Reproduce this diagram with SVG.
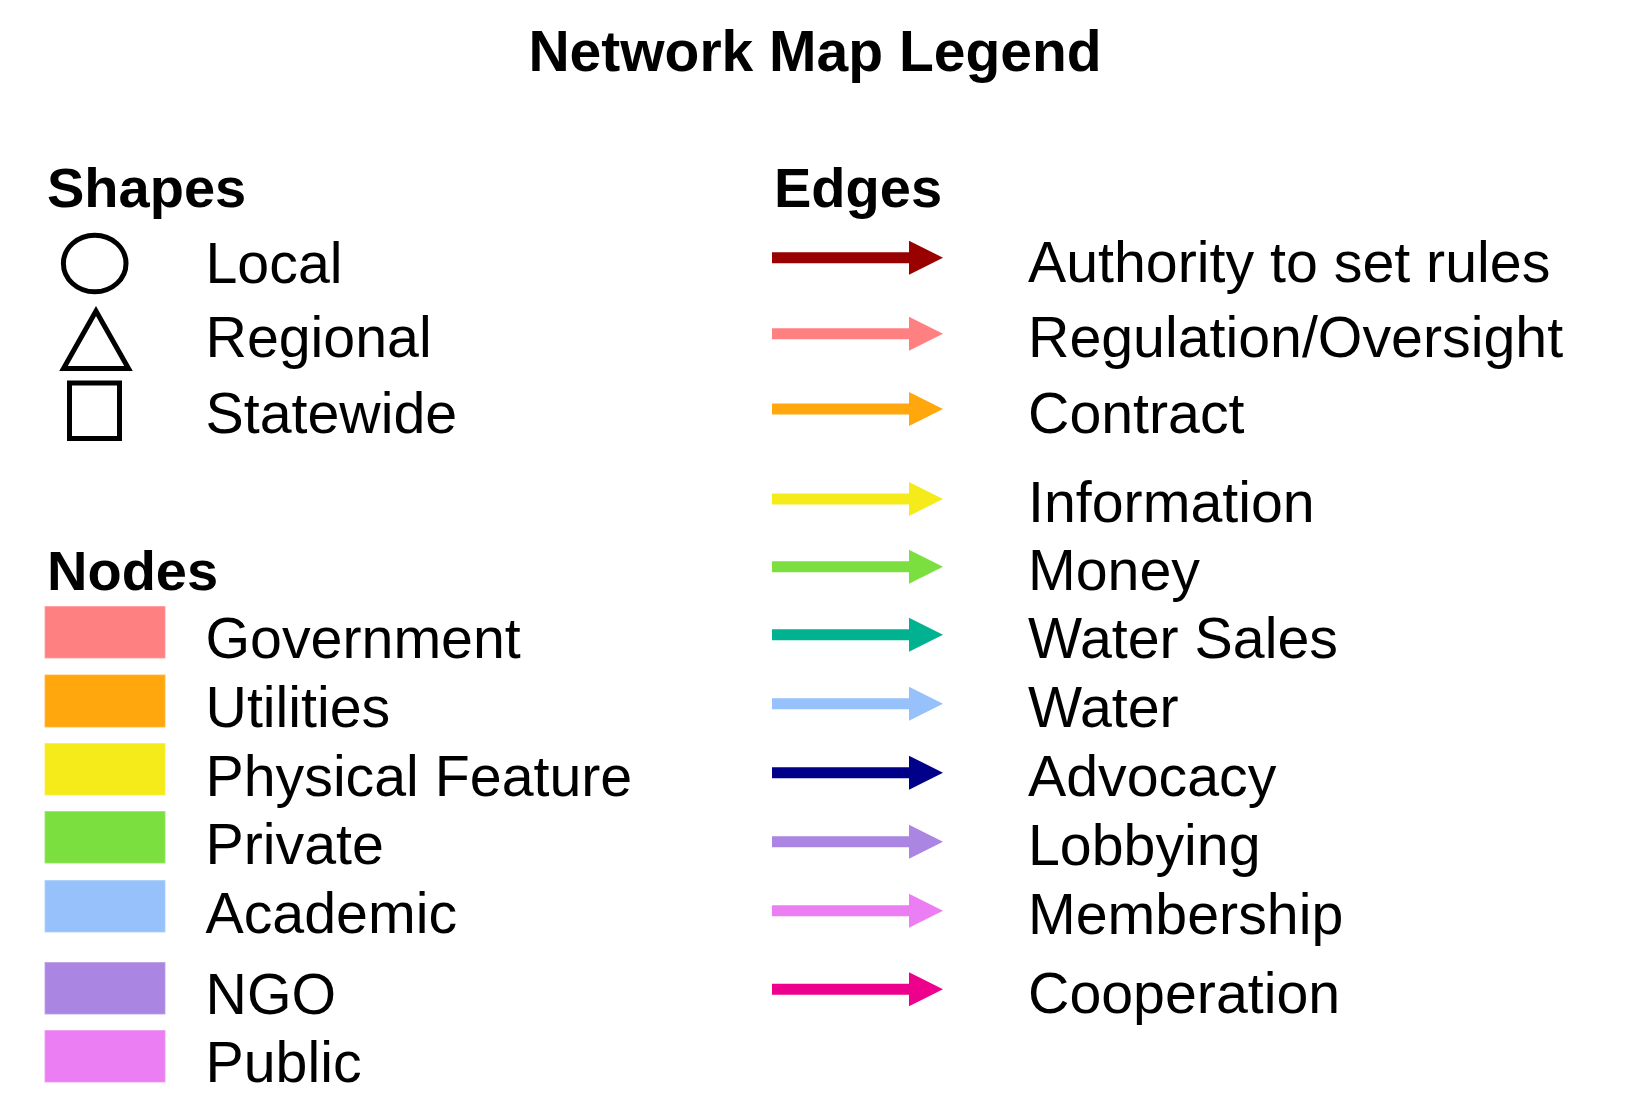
<svg xmlns="http://www.w3.org/2000/svg" width="1629" height="1119" viewBox="0 0 1629 1119">
<defs>
<style>
text{font-family:"Liberation Sans",Arial,sans-serif;fill:#000}
.h{font-weight:bold;font-size:56px}
.t{font-size:57.3px}
.sh{fill:none;stroke:#000;stroke-width:5}
.sw{stroke-width:1.5;stroke-opacity:0.35;stroke:#fff}
</style>
<path id="arr" d="M772,-5.5 H909 V-17 L943,0 L909,17 V5.5 H772 Z"/>
</defs>
<rect width="1629" height="1119" fill="#fff"/>
<text class="h" x="815" y="71" text-anchor="middle" style="font-size:57px">Network Map Legend</text>

<g id="shapes">
<text class="h" x="47" y="207">Shapes</text>
<g id="shape-local"><ellipse class="sh" cx="94.7" cy="263.5" rx="31.3" ry="28.3"/><text class="t" x="205.5" y="283">Local</text></g>
<g id="shape-regional"><polygon class="sh" points="96,311 63.5,368.5 128.5,368.5"/><text class="t" x="205.5" y="357">Regional</text></g>
<g id="shape-statewide"><rect class="sh" x="69.5" y="383" width="50" height="55.5"/><text class="t" x="205.5" y="433">Statewide</text></g>
</g>

<g id="nodes">
<text class="h" x="47" y="590">Nodes</text>
<g id="node-government"><rect class="sw" x="44.5" y="606" width="121" height="52.5" fill="#FF8080"/><text class="t" x="205.5" y="657.5">Government</text></g>
<g id="node-utilities"><rect class="sw" x="44.5" y="674.5" width="121" height="53" fill="#FFA70D"/><text class="t" x="205.5" y="727">Utilities</text></g>
<g id="node-physical"><rect class="sw" x="44.5" y="743" width="121" height="52.5" fill="#F5EB1A"/><text class="t" x="205.5" y="795.5">Physical Feature</text></g>
<g id="node-private"><rect class="sw" x="44.5" y="811" width="121" height="52.5" fill="#7BE03F"/><text class="t" x="205.5" y="863.5">Private</text></g>
<g id="node-academic"><rect class="sw" x="44.5" y="880" width="121" height="52.5" fill="#96C1FA"/><text class="t" x="205.5" y="932.5">Academic</text></g>
<g id="node-ngo"><rect class="sw" x="44.5" y="962" width="121" height="52.5" fill="#AB85E2"/><text class="t" x="205.5" y="1014">NGO</text></g>
<g id="node-public"><rect class="sw" x="44.5" y="1030" width="121" height="52.5" fill="#EA7EF2"/><text class="t" x="205.5" y="1082">Public</text></g>
</g>

<g id="edges-legend">
<text class="h" x="774" y="207">Edges</text>
<g id="connectors">
<use href="#arr" y="257.7" fill="#990000"/>
<use href="#arr" y="333.7" fill="#FF8080"/>
<use href="#arr" y="409" fill="#FFA70D"/>
<use href="#arr" y="499" fill="#F5EB1A"/>
<use href="#arr" y="566.7" fill="#7BE03F"/>
<use href="#arr" y="634.7" fill="#00B290"/>
<use href="#arr" y="703.7" fill="#96C1FA"/>
<use href="#arr" y="772.7" fill="#000088"/>
<use href="#arr" y="841.7" fill="#AB85E2"/>
<use href="#arr" y="910.7" fill="#EA7EF2"/>
<use href="#arr" y="989.3" fill="#ED008C"/>
</g>
<g id="edge-labels">
<text class="t" x="1028" y="281.5">Authority to set rules</text>
<text class="t" x="1028" y="357">Regulation/Oversight</text>
<text class="t" x="1028" y="432.5">Contract</text>
<text class="t" x="1028" y="522">Information</text>
<text class="t" x="1028" y="589.5">Money</text>
<text class="t" x="1028" y="658">Water Sales</text>
<text class="t" x="1028" y="727">Water</text>
<text class="t" x="1028" y="796">Advocacy</text>
<text class="t" x="1028" y="865">Lobbying</text>
<text class="t" x="1028" y="934">Membership</text>
<text class="t" x="1028" y="1013">Cooperation</text>
</g>
</g>
</svg>
